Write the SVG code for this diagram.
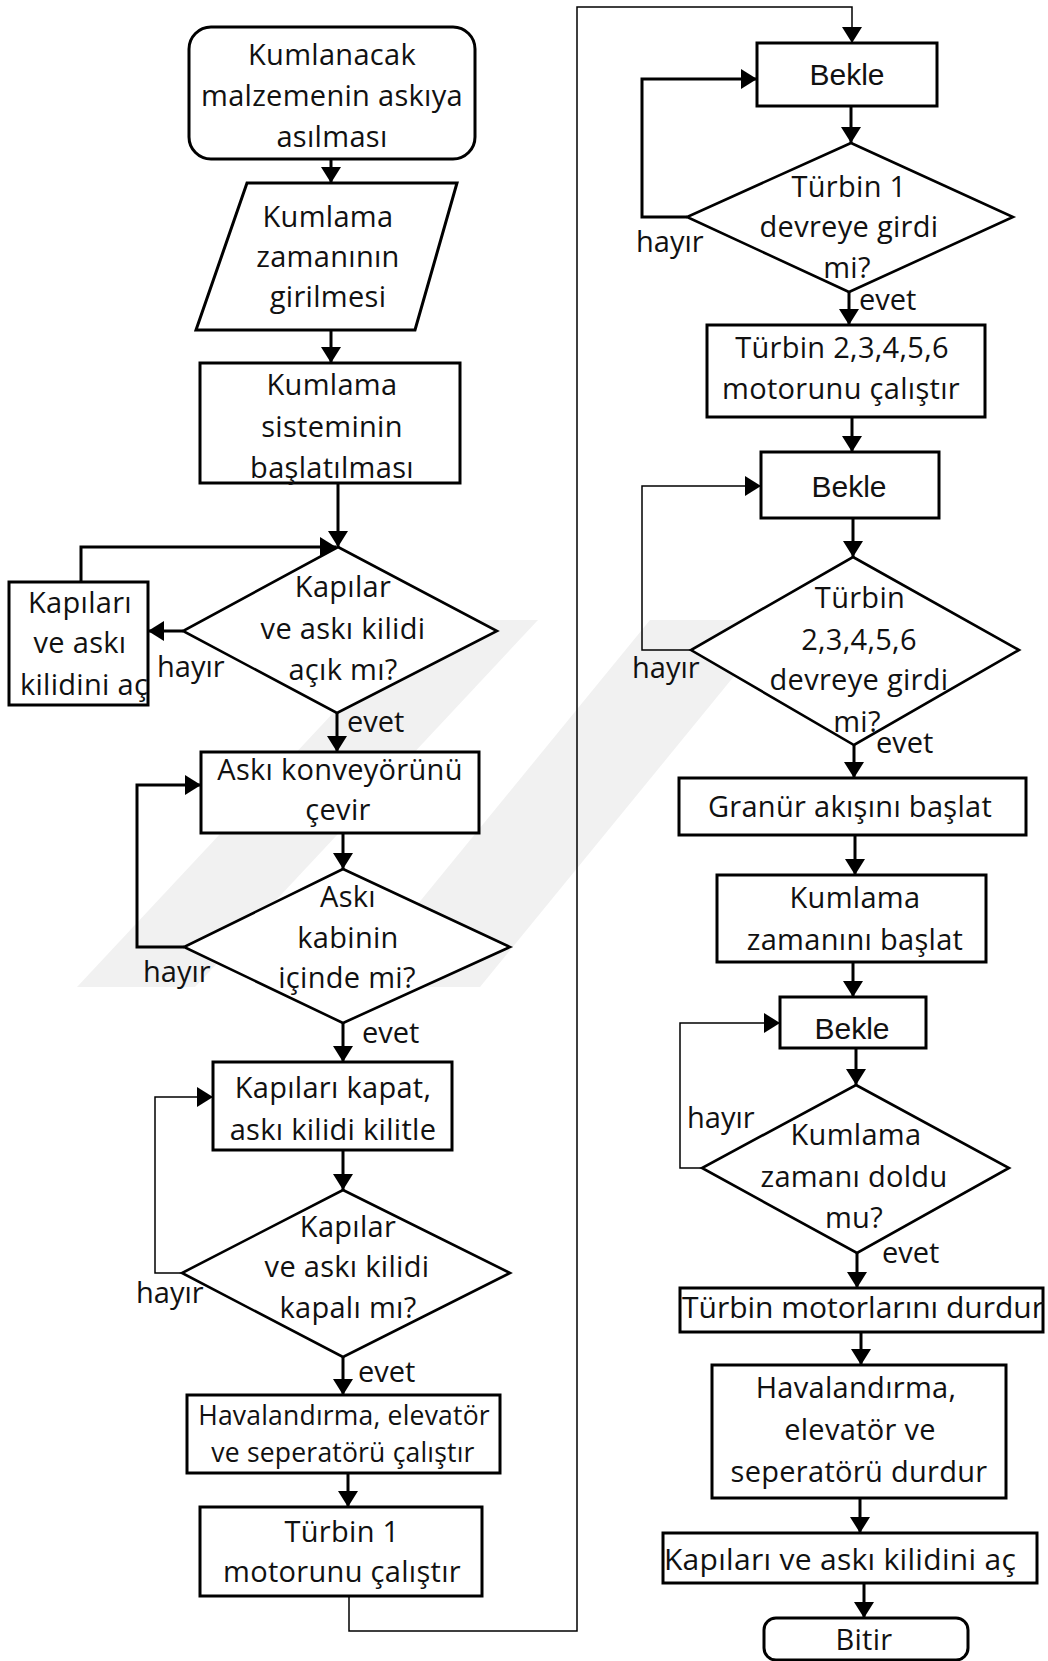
<svg xmlns="http://www.w3.org/2000/svg" width="1048" height="1661" viewBox="0 0 1048 1661">
<defs>
<marker id="ah" viewBox="0 0 16 20" refX="16" refY="10" markerWidth="16" markerHeight="20" markerUnits="userSpaceOnUse" orient="auto"><path d="M0,0 L16,10 L0,20 z" fill="#000"/></marker>
<style>
.n{fill:#fff;stroke:#000;stroke-width:3}
.d{fill:#fff;stroke:#000;stroke-width:2.6}
.t{font-family:"Open Sans","Noto Sans",sans-serif;font-size:29px;letter-spacing:0.3px;fill:#111;text-anchor:middle}
.b{font-family:"Liberation Sans",Arial,sans-serif;font-size:30px;fill:#111;text-anchor:middle}
.l{font-family:"Open Sans","Noto Sans",sans-serif;font-size:29px;fill:#111}
.c{fill:none;stroke:#000;stroke-width:3;marker-end:url(#ah)}
.th{fill:none;stroke:#000;stroke-width:1.5;marker-end:url(#ah)}
.w{fill:#f1f1f1}
</style>
</defs>
<rect width="1048" height="1661" fill="#fff"/>
<g id="watermark">
<polygon class="w" points="77,987 195,987 538,620 420,620"/>
<polygon class="w" points="350,987 480,987 780,620 650,620"/>
</g>
<g id="connectors">
<path class="c" d="M331,159 V183"/>
<path class="c" d="M331,330 V363"/>
<path class="c" d="M338,483 V547"/>
<path class="c" d="M183,631 H148"/>
<path class="c" d="M81,582 V547 H336"/>
<path class="c" d="M337,713 V752"/>
<path class="c" d="M343,833 V869"/>
<path class="c" d="M184,947 H137 V785 H201"/>
<path class="c" d="M343,1023 V1062"/>
<path class="c" d="M343,1150 V1190"/>
<path class="th" d="M182,1273 H155 V1097 H213"/>
<path class="c" d="M343,1357 V1395"/>
<path class="c" d="M348,1473 V1507"/>
<path class="th" d="M349,1596 V1631 H577 V7 H852 V43"/>
<path class="c" d="M851,106 V143"/>
<path class="c" d="M687,217 H642 V79 H757"/>
<path class="c" d="M849,292 V325"/>
<path class="c" d="M852,417 V452"/>
<path class="c" d="M853,518 V557"/>
<path class="th" d="M691,650 H642 V486 H761"/>
<path class="c" d="M854,745 V778"/>
<path class="c" d="M855,835 V875"/>
<path class="c" d="M853,962 V997"/>
<path class="c" d="M856,1048 V1085"/>
<path class="th" d="M702,1168 H680 V1023 H780"/>
<path class="c" d="M857,1253 V1288"/>
<path class="c" d="M861,1332 V1365"/>
<path class="c" d="M860,1498 V1533"/>
<path class="c" d="M864,1583 V1618"/>
</g>
<g id="start"><rect class="n" x="189" y="27" width="286" height="132" rx="22"/>
<text class="t" x="332" y="65">Kumlanacak</text><text class="t" x="332" y="106">malzemenin askıya</text><text class="t" x="332" y="147">asılması</text></g>
<g id="input"><polygon class="n" points="247,183 457,183 415,330 196,330"/>
<text class="t" x="328" y="227">Kumlama</text><text class="t" x="328" y="267">zamanının</text><text class="t" x="328" y="307">girilmesi</text></g>
<g id="start-system"><rect class="n" x="200" y="363" width="260" height="120"/>
<text class="t" x="332" y="395">Kumlama</text><text class="t" x="332" y="437">sisteminin</text><text class="t" x="332" y="478">başlatılması</text></g>
<g id="d-open"><polygon class="d" points="338,547 497,631 337,713 183,631"/>
<text class="t" x="343" y="597">Kapılar</text><text class="t" x="343" y="639">ve askı kilidi</text><text class="t" x="343" y="680">açık mı?</text></g>
<g id="open-box"><rect class="n" x="9" y="582" width="139" height="123"/>
<text class="t" x="80" y="613">Kapıları</text><text class="t" x="80" y="653">ve askı</text><text class="t" x="84" y="695">kilidini aç</text></g>
<g id="conveyor"><rect class="n" x="201" y="752" width="278" height="81"/>
<text class="t" x="340" y="780">Askı konveyörünü</text><text class="t" x="338" y="820">çevir</text></g>
<g id="d-cabin"><polygon class="d" points="343,869 510,947 343,1023 184,947"/>
<text class="t" x="348" y="907">Askı</text><text class="t" x="348" y="948">kabinin</text><text class="t" x="347" y="988">içinde mi?</text></g>
<g id="close-box"><rect class="n" x="213" y="1062" width="239" height="88"/>
<text class="t" x="333" y="1098">Kapıları kapat,</text><text class="t" x="333" y="1140">askı kilidi kilitle</text></g>
<g id="d-closed"><polygon class="d" points="343,1190 510,1273 343,1357 182,1273"/>
<text class="t" x="348" y="1237">Kapılar</text><text class="t" x="347" y="1277">ve askı kilidi</text><text class="t" x="348" y="1318">kapalı mı?</text></g>
<g id="vent-start"><rect class="n" x="187" y="1395" width="313" height="78"/>
<text class="t" x="344" y="1425" style="font-size:26.5px;letter-spacing:0.2px">Havalandırma, elevatör</text><text class="t" x="343" y="1462" style="font-size:26.5px;letter-spacing:0.2px">ve seperatörü çalıştır</text></g>
<g id="turbine1"><rect class="n" x="200" y="1507" width="282" height="89"/>
<text class="t" x="342" y="1542">Türbin 1</text><text class="t" x="342" y="1582">motorunu çalıştır</text></g>
<g id="wait1"><rect class="n" x="757" y="43" width="180" height="63"/>
<text class="b" x="847" y="85">Bekle</text></g>
<g id="d-t1"><polygon class="d" points="851,143 1013,217 849,292 687,217"/>
<text class="t" x="849" y="197">Türbin 1</text><text class="t" x="849" y="237">devreye girdi</text><text class="t" x="847" y="278">mi?</text></g>
<g id="turbine2"><rect class="n" x="707" y="325" width="278" height="92"/>
<text class="t" x="842" y="358">Türbin 2,3,4,5,6</text><text class="t" x="841" y="399">motorunu çalıştır</text></g>
<g id="wait2"><rect class="n" x="761" y="452" width="178" height="66"/>
<text class="b" x="849" y="497">Bekle</text></g>
<g id="d-t2"><polygon class="d" points="853,557 1019,650 854,745 691,650"/>
<text class="t" x="860" y="608">Türbin</text><text class="t" x="859" y="650">2,3,4,5,6</text><text class="t" x="859" y="690">devreye girdi</text><text class="t" x="857" y="732">mi?</text></g>
<g id="granule"><rect class="n" x="679" y="778" width="347" height="57"/>
<text class="t" x="850" y="817">Granür akışını başlat</text></g>
<g id="timer"><rect class="n" x="717" y="875" width="269" height="87"/>
<text class="t" x="855" y="908">Kumlama</text><text class="t" x="855" y="950">zamanını başlat</text></g>
<g id="wait3"><rect class="n" x="780" y="997" width="146" height="51"/>
<text class="b" x="852" y="1039">Bekle</text></g>
<g id="d-time"><polygon class="d" points="856,1085 1009,1168 857,1253 702,1168"/>
<text class="t" x="856" y="1145">Kumlama</text><text class="t" x="854" y="1187">zamanı doldu</text><text class="t" x="854" y="1228">mu?</text></g>
<g id="stop-turbines"><rect class="n" x="680" y="1288" width="363" height="44"/>
<text class="t" x="863" y="1318" style="font-size:30px;letter-spacing:0">Türbin motorlarını durdur</text></g>
<g id="vent-stop"><rect class="n" x="712" y="1365" width="294" height="133"/>
<text class="t" x="856" y="1398">Havalandırma,</text><text class="t" x="860" y="1440">elevatör ve</text><text class="t" x="859" y="1482">seperatörü durdur</text></g>
<g id="open-end"><rect class="n" x="663" y="1533" width="374" height="50"/>
<text class="t" x="840" y="1570" style="font-size:30px;letter-spacing:0.3px">Kapıları ve askı kilidini aç</text></g>
<g id="end"><rect class="n" x="764" y="1618" width="204" height="42" rx="12"/>
<text class="t" x="864" y="1650">Bitir</text></g>
<g id="labels">
<text class="l" x="157" y="677">hayır</text><text class="l" x="347" y="732">evet</text>
<text class="l" x="143" y="982">hayır</text><text class="l" x="362" y="1043">evet</text>
<text class="l" x="136" y="1303">hayır</text><text class="l" x="358" y="1382">evet</text>
<text class="l" x="636" y="252">hayır</text><text class="l" x="859" y="310">evet</text>
<text class="l" x="632" y="678">hayır</text><text class="l" x="876" y="753">evet</text>
<text class="l" x="687" y="1128">hayır</text><text class="l" x="882" y="1263">evet</text>
</g>
</svg>
